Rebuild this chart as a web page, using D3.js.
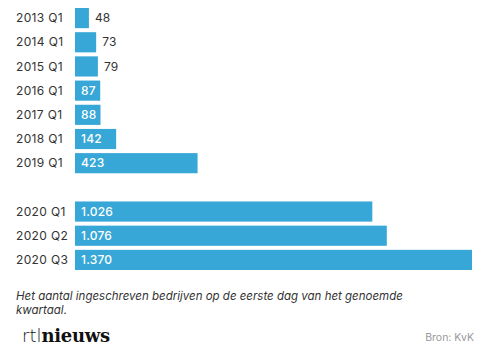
<!DOCTYPE html>
<html>
<head>
<meta charset="utf-8">
<script src="https://cdn.jsdelivr.net/npm/d3@7"></script>
<style>
  html, body { margin: 0; padding: 0; background: #fff; }
  svg { display: block; }
</style>
</head>
<body>
<svg id="chart" width="487" height="356"></svg>
<script>
const categories = ["2013 Q1", "2014 Q1", "2015 Q1", "2016 Q1", "2017 Q1", "2018 Q1", "2019 Q1", "", "2020 Q1", "2020 Q2", "2020 Q3"];
const values = [48, 73, 79, 87, 88, 142, 423, null, 1026, 1076, 1370];
const valueLabels = ["48", "73", "79", "87", "88", "142", "423", "", "1.026", "1.076", "1.370"];
const footnote = ["Het aantal ingeschreven bedrijven op de eerste dag van het genoemde", "kwartaal."];
const source = "Bron: KvK";

const W = 487, H = 356;
const svg = d3.select("#chart");
const font = "Inter, 'Noto Sans', sans-serif";

const keys = categories.map((c, i) => i);
const y = d3.scaleBand().domain(keys).range([7, 271]).paddingInner(4 / 24).paddingOuter(2 / 24 / 2);
const x = d3.scaleLinear().domain([0, 1370]).range([75, 472]);

const rows = keys.filter(i => values[i] != null).map(i => ({ i, cat: categories[i], v: values[i], lab: valueLabels[i] }));

const g = svg.append("g");
g.selectAll("rect").data(rows).join("rect")
  .attr("x", x(0))
  .attr("y", d => y(d.i))
  .attr("width", d => x(d.v) - x(0))
  .attr("height", y.bandwidth())
  .attr("fill", "#37a7d7");

g.selectAll("text.cat").data(rows).join("text")
  .attr("class", "cat")
  .attr("x", 16)
  .attr("y", d => y(d.i) + y.bandwidth() / 2)
  .attr("dy", "0.35em")
  .attr("font-family", font)
  .attr("font-size", 12)
  .attr("letter-spacing", 0.35)
  .attr("fill", "#333")
  .text(d => d.cat);

g.selectAll("text.val").data(rows).join("text")
  .attr("class", "val")
  .each(function (d) {
    const inside = x(d.v) - x(0) >= 25;
    d3.select(this)
      .attr("x", inside ? x(0) + 6 : x(d.v) + 6)
      .attr("fill", inside ? "#fff" : "#333")
      .attr("font-weight", inside ? 500 : 400);
  })
  .attr("y", d => y(d.i) + y.bandwidth() / 2)
  .attr("dy", "0.35em")
  .attr("font-family", font)
  .attr("font-size", 12)
  .attr("letter-spacing", 0.2)
  .text(d => d.lab);

svg.append("text")
  .attr("x", 16).attr("y", 300)
  .attr("font-family", font).attr("font-size", 11.5).attr("font-style", "italic")
  .attr("fill", "#333")
  .selectAll("tspan").data(footnote).join("tspan")
  .attr("x", 16).attr("dy", (d, i) => i === 0 ? 0 : 14)
  .text(d => d);

const logo = svg.append("text")
  .attr("x", 22).attr("y", 342)
  .attr("font-size", 18);
logo.append("tspan").attr("font-family", "'DejaVu Sans'").attr("font-weight", 200).attr("fill", "#111").attr("letter-spacing", 0).text("rtl");
logo.append("tspan").attr("font-family", "'DejaVu Serif'").attr("font-weight", 700).attr("fill", "#111").attr("letter-spacing", -0.3).text("nieuws");

svg.append("text")
  .attr("x", 474).attr("y", 341)
  .attr("text-anchor", "end")
  .attr("font-family", font).attr("font-size", 10.5)
  .attr("fill", "#999")
  .text(source);
</script>
</body>
</html>
